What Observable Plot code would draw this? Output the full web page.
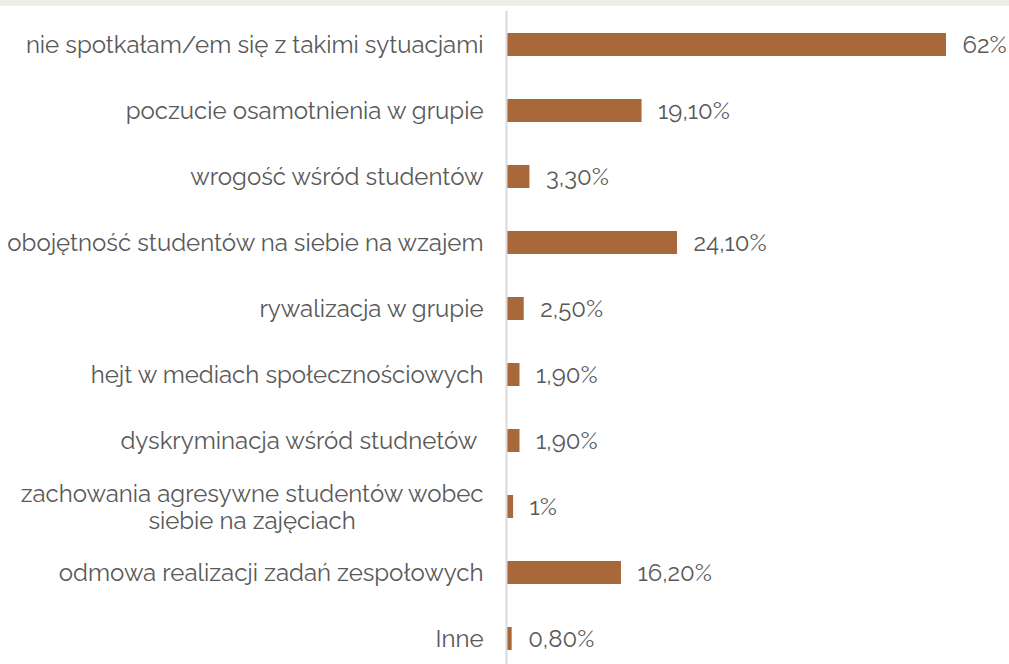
<!DOCTYPE html>
<html>
<head>
<meta charset="utf-8">
<script src="https://cdn.jsdelivr.net/npm/d3@7"></script>
<script src="https://cdn.jsdelivr.net/npm/@observablehq/plot@0.6"></script>
<style>
  html, body { margin: 0; padding: 0; background: #fff; overflow: hidden; }
  #strip { height: 6px; background: #efede8; }
  #chart svg { display: block; }
</style>
</head>
<body>
<div id="strip"></div>
<div id="chart"></div>
<script>
const categories = [
  "nie spotkałam/em się z takimi sytuacjami",
  "poczucie osamotnienia w grupie",
  "wrogość wśród studentów",
  "obojętność studentów na siebie na wzajem",
  "rywalizacja w grupie",
  "hejt w mediach społecznościowych",
  "dyskryminacja wśród studnetów\u00a0",
  "zachowania agresywne studentów wobec\nsiebie na zajęciach",
  "odmowa realizacji zadań zespołowych",
  "Inne"
];
const values = [62, 19.1, 3.3, 24.1, 2.5, 1.9, 1.9, 1, 16.2, 0.8];
const valueLabels = ["62%", "19,10%", "3,30%", "24,10%", "2,50%", "1,90%", "1,90%", "1%", "16,20%", "0,80%"];

const data = categories.map((c, i) => ({category: c, value: values[i], label: valueLabels[i]}));

const font = "Raleway, Lato, 'Open Sans', sans-serif";
const chart = Plot.plot({
  width: 1009,
  height: 666,
  marginLeft: 506,
  marginRight: 63,
  marginTop: 5,
  marginBottom: 0,
  style: {fontFamily: font, color: "#595959", background: "#fff"},
  x: {domain: [0, 62], axis: null},
  y: {domain: categories, paddingInner: 0.65, paddingOuter: 0.325, label: null},
  marks: [
    Plot.axisY({tickSize: 0, tickPadding: 23, fontSize: 24, lineHeight: 1.1, fill: "#595959", label: null}),
    Plot.barX(data, {x: "value", y: "category", fill: "#a9683a"}),
    Plot.text(data, {x: "value", y: "category", text: "label", textAnchor: "start", dx: 16, fontSize: 24, fill: "#595959"}),
    Plot.ruleX([0], {stroke: "#d9d9d9", strokeWidth: 2})
  ]
});
document.getElementById("chart").appendChild(chart);

// center the second line of the two-line label under the first line
d3.select(chart).selectAll("text").each(function() {
  const tspans = this.querySelectorAll("tspan");
  if (tspans.length === 2) {
    const w = tspans[0].getComputedTextLength();
    tspans[1].setAttribute("x", -w / 2 + "");
    tspans[1].setAttribute("text-anchor", "middle");
  }
});
</script>
</body>
</html>
